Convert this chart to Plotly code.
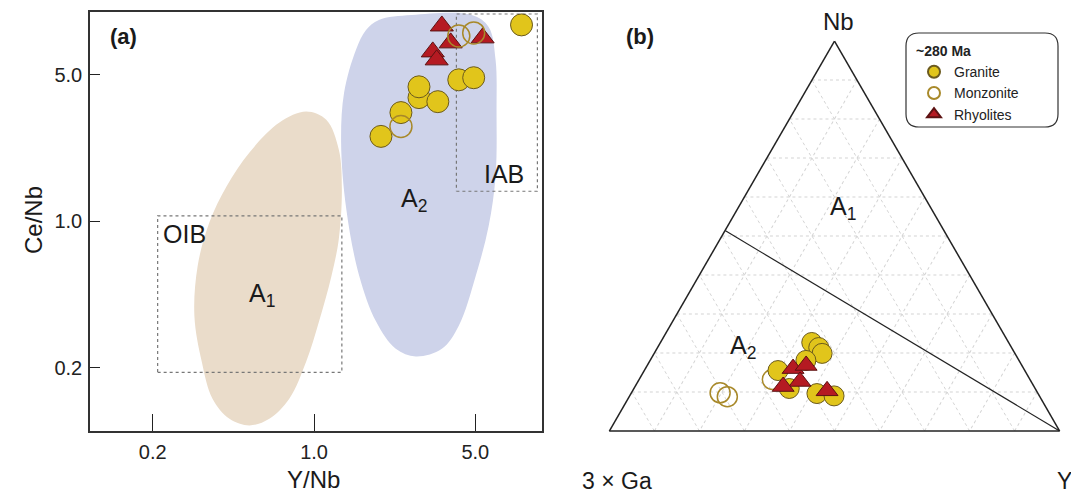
import plotly.graph_objects as go

W, H = 1071, 494
FONT = "Liberation Sans, Arial, Helvetica, sans-serif"

# ---------------- Panel (a): Y/Nb vs Ce/Nb ----------------
granite_ynb = [7.93, 1.95, 2.38, 2.85, 2.85, 3.44, 4.24, 4.92]
granite_cenb = [8.65, 2.54, 3.30, 3.89, 4.38, 3.72, 4.73, 4.84]
monz_ynb = [2.38, 4.24, 4.92]
monz_cenb = [2.83, 7.66, 7.92]
rhy_ynb = [3.58, 3.91, 5.38, 3.27, 3.40]
rhy_cenb = [8.55, 7.10, 7.50, 6.43, 5.89]

a1_field_ynb = [0.925, 1.13, 1.28, 1.32, 1.28, 1.19, 1.05, 0.925, 0.781, 0.640,
                0.525, 0.430, 0.363, 0.326, 0.303, 0.313, 0.352, 0.418, 0.525, 0.708, 0.925]
a1_field_cenb = [3.34, 3.05, 2.20, 1.42, 0.821, 0.548, 0.331, 0.214, 0.142, 0.114,
                 0.106, 0.114, 0.142, 0.214, 0.353, 0.611, 0.989, 1.47, 2.13, 2.96, 3.34]
a2_field_ynb = [2.65, 4.82, 5.71, 6.12, 6.18, 6.12, 5.71, 5.02, 4.24, 3.58, 2.76,
                2.26, 1.86, 1.57, 1.38, 1.31, 1.35, 1.52, 1.68, 1.91, 2.65]
a2_field_cenb = [9.64, 9.64, 8.46, 5.89, 3.41, 1.64, 0.947, 0.548, 0.317, 0.246, 0.226,
                 0.246, 0.331, 0.548, 1.14, 2.38, 4.11, 6.58, 8.18, 9.13, 9.64]

oib_box_ynb = [0.21, 1.32, 1.32, 0.21, 0.21]
oib_box_cenb = [0.19, 0.19, 1.06, 1.06, 0.19]
iab_box_ynb = [4.14, 9.29, 9.29, 4.14, 4.14]
iab_box_cenb = [1.39, 1.39, 9.75, 9.75, 1.39]

x_tick_vals = [0.2, 1.0, 5.0]
x_tick_text = ["0.2", "1.0", "5.0"]
y_tick_vals = [0.2, 1.0, 5.0]
y_tick_text = ["0.2", "1.0", "5.0"]

# ---------------- Panel (b): Nb - 3*Ga - Y ternary (%) ----------------
granite_nb = [22.7, 21.4, 19.9, 18.1, 15.5, 10.9, 9.6, 9.0]
granite_ga3 = [43.7, 42.8, 42.8, 47.3, 54.8, 54.6, 49.1, 45.6]
granite_y = [33.6, 35.8, 37.3, 34.6, 29.7, 34.5, 41.3, 45.4]
monz_nb = [9.8, 8.8, 13.2]
monz_ga3 = [70.5, 69.4, 57.2]
monz_y = [19.7, 21.8, 29.6]
rhy_nb = [16.0, 16.8, 12.7, 11.4, 10.3]
rhy_ga3 = [51.2, 47.9, 51.3, 55.7, 46.5]
rhy_y = [32.8, 35.3, 36.0, 32.9, 43.2]
divider_nb = [51.4, 0]
divider_ga3 = [48.6, 0]
divider_y = [0, 100]

# ---------------- styles ----------------
GRAN_FILL = "#e1c51b"
GRAN_LINE = "#6b5a1e"
MONZ_LINE = "#a8892a"
RHY_FILL = "#b51a22"
RHY_LINE = "#5c1212"
TAN = "#eadcca"
BLUE = "#ced3ea"


def px(x):
    return x / W


def py(y):
    return 1 - y / H


fig = go.Figure()

# fields
fig.add_trace(go.Scatter(x=a1_field_ynb, y=a1_field_cenb, mode="lines", fill="toself",
                         fillcolor=TAN, line=dict(width=0, shape="spline", color=TAN),
                         showlegend=False, hoverinfo="skip"))
fig.add_trace(go.Scatter(x=a2_field_ynb, y=a2_field_cenb, mode="lines", fill="toself",
                         fillcolor=BLUE, line=dict(width=0, shape="spline", color=BLUE),
                         showlegend=False, hoverinfo="skip"))
# boxes
for bx, by in [(oib_box_ynb, oib_box_cenb), (iab_box_ynb, iab_box_cenb)]:
    fig.add_trace(go.Scatter(x=bx, y=by, mode="lines",
                             line=dict(color="#777777", width=1.2, dash="dot"),
                             showlegend=False, hoverinfo="skip"))

# points (a)
fig.add_trace(go.Scatter(x=granite_ynb, y=granite_cenb, mode="markers", name="Granite",
                         marker=dict(symbol="circle", size=22, color=GRAN_FILL,
                                     line=dict(color=GRAN_LINE, width=1)),
                         legendrank=1))
fig.add_trace(go.Scatter(x=rhy_ynb, y=rhy_cenb, mode="markers", name="Rhyolites",
                         marker=dict(symbol="triangle-up", size=20, color=RHY_FILL,
                                     line=dict(color=RHY_LINE, width=1)),
                         legendrank=3))
fig.add_trace(go.Scatter(x=monz_ynb, y=monz_cenb, mode="markers", name="Monzonite",
                         marker=dict(symbol="circle-open", size=22, color=MONZ_LINE,
                                     line=dict(color=MONZ_LINE, width=1.5)),
                         legendrank=2))

# ternary
fig.add_trace(go.Scatterternary(a=divider_nb, b=divider_ga3, c=divider_y, mode="lines",
                                line=dict(color="#222222", width=1.2),
                                showlegend=False, hoverinfo="skip"))
fig.add_trace(go.Scatterternary(a=monz_nb, b=monz_ga3, c=monz_y, mode="markers",
                                marker=dict(symbol="circle-open", size=20, color=MONZ_LINE,
                                            line=dict(color=MONZ_LINE, width=1.5)),
                                showlegend=False))
fig.add_trace(go.Scatterternary(a=granite_nb, b=granite_ga3, c=granite_y, mode="markers",
                                marker=dict(symbol="circle", size=20, color=GRAN_FILL,
                                            line=dict(color=GRAN_LINE, width=1)),
                                showlegend=False))
fig.add_trace(go.Scatterternary(a=rhy_nb, b=rhy_ga3, c=rhy_y, mode="markers",
                                marker=dict(symbol="triangle-up", size=19, color=RHY_FILL,
                                            line=dict(color=RHY_LINE, width=1)),
                                showlegend=False))

tern_axis = dict(min=0, showgrid=True, gridcolor="#d4d4d4", griddash="3px,3px", gridwidth=0.8,
                 dtick=10, tick0=0, showticklabels=False, ticks="",
                 linecolor="#222222", linewidth=1.5, title=dict(text=""))

fig.update_layout(
    width=W, height=H,
    margin=dict(l=0, r=0, t=0, b=0),
    paper_bgcolor="white", plot_bgcolor="white",
    font=dict(family=FONT, color="#222222"),
    xaxis=dict(type="log", range=[-0.971, 0.988], domain=[px(90), px(542)],
               tickvals=x_tick_vals, ticktext=x_tick_text, ticks="inside", ticklen=17,
               tickwidth=1.3, tickcolor="#222222", ticklabelstandoff=3,
               tickfont=dict(size=20, family=FONT, color="#222222"),
               showline=True, mirror=True, linecolor="#333333", linewidth=1.5,
               showgrid=False, zeroline=False),
    yaxis=dict(type="log", range=[-1.0, 1.0], domain=[py(430.7), py(11.7)],
               tickvals=y_tick_vals, ticktext=y_tick_text, ticks="inside", ticklen=10,
               tickwidth=1.3, tickcolor="#222222", ticklabelstandoff=2,
               tickfont=dict(size=20, family=FONT, color="#222222"),
               showline=True, mirror=True, linecolor="#333333", linewidth=1.5,
               showgrid=False, zeroline=False),
    ternary=dict(domain=dict(x=[px(609), px(1060)], y=[py(431), py(41)]), sum=100,
                 bgcolor="white", aaxis=tern_axis, baxis=tern_axis, caxis=tern_axis),
    legend=dict(x=px(914), y=py(38), xanchor="left", yanchor="top",
                bgcolor="rgba(0,0,0,0)", borderwidth=0,
                font=dict(size=14, family=FONT, color="#222222"),
                title=dict(text="<b>~280 Ma</b>", font=dict(size=14, family=FONT)),
                itemsizing="constant", tracegroupgap=0),
)

# rounded legend box
x0, x1, y0, y1, r = 906, 1058, 33, 127, 13
path = (f"M {px(x0 + r)} {py(y0)} L {px(x1 - r)} {py(y0)} Q {px(x1)} {py(y0)} {px(x1)} {py(y0 + r)} "
        f"L {px(x1)} {py(y1 - r)} Q {px(x1)} {py(y1)} {px(x1 - r)} {py(y1)} "
        f"L {px(x0 + r)} {py(y1)} Q {px(x0)} {py(y1)} {px(x0)} {py(y1 - r)} "
        f"L {px(x0)} {py(y0 + r)} Q {px(x0)} {py(y0)} {px(x0 + r)} {py(y0)} Z")
fig.add_shape(type="path", path=path, xref="paper", yref="paper",
              line=dict(color="#333333", width=1.2), fillcolor="rgba(0,0,0,0)")


def ann(text, x, y, size, bold=False, angle=0, xanchor="center"):
    fig.add_annotation(text=f"<b>{text}</b>" if bold else text, x=px(x), y=py(y),
                       xref="paper", yref="paper", showarrow=False, textangle=angle,
                       xanchor=xanchor, yanchor="middle",
                       font=dict(size=size, family=FONT, color="#1a1a1a"))


ann("(a)", 123, 37, 22, bold=True)
ann("(b)", 640, 37, 22, bold=True)
ann("Ce/Nb", 33, 220, 24, angle=-90)
ann("Y/Nb", 313, 479, 24)
ann("OIB", 184, 234, 25)
ann("A<sub>1</sub>", 262, 295, 25)
ann("A<sub>2</sub>", 414, 200, 25)
ann("IAB", 504, 174, 25)
ann("Nb", 838, 22, 24)
ann("3 × Ga", 617, 481, 23)
ann("Y", 1055, 481, 23, xanchor="left")
ann("A<sub>1</sub>", 843, 208, 25)
ann("A<sub>2</sub>", 743, 347, 25)

fig.write_html("out.html", config={"displayModeBar": False},
               post_script="document.body.style.margin='0px';")
